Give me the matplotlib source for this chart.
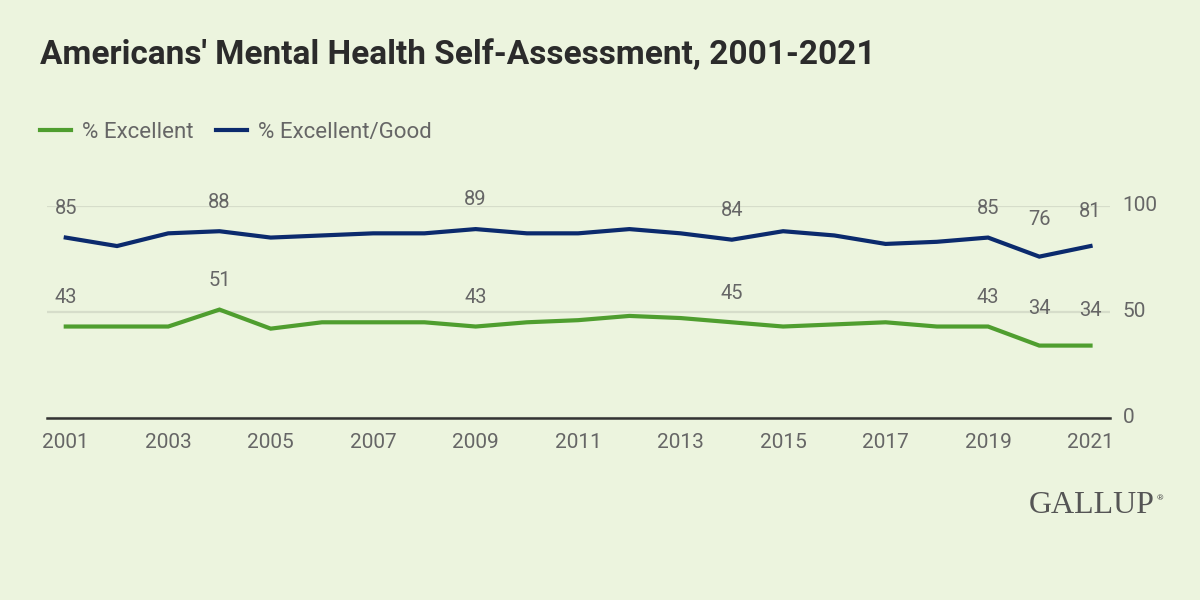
import matplotlib
matplotlib.use("Agg")
import matplotlib.pyplot as plt

years = list(range(2001, 2022))
excellent = [43, 43, 43, 51, 42, 45, 45, 45, 43, 45, 46, 48, 47, 45, 43, 44, 45, 43, 43, 34, 34]
excellent_good = [85, 81, 87, 88, 85, 86, 87, 87, 89, 87, 87, 89, 87, 84, 88, 86, 82, 83, 85, 76, 81]
labeled_years = [2001, 2004, 2009, 2014, 2019, 2020, 2021]
x_ticks = list(range(2001, 2022, 2))
y_ticks = [0, 50, 100]

bg = "#ecf4de"
green = "#4f9e2f"
navy = "#0b2a6d"
grey = "#666666"

plt.rcParams["font.family"] = ["Roboto", "DejaVu Sans"]

fig = plt.figure(figsize=(12, 6), dpi=100, facecolor=bg)
ax = fig.add_axes([0.039, 0.304, 0.886, 0.353])
ax.set_facecolor(bg)

ax.plot(years, excellent, color=green, linewidth=3, solid_joinstyle="miter", label="% Excellent")
ax.plot(years, excellent_good, color=navy, linewidth=3, solid_joinstyle="miter", label="% Excellent/Good")

for series in (excellent, excellent_good):
    for yr, v in zip(years, series):
        if yr in labeled_years:
            off = 21
            if yr == 2020:
                off = 27
            elif yr == 2021:
                off = 25
            ax.annotate(str(v), (yr, v), xytext=(0, off), textcoords="offset points",
                        ha="center", va="center", fontsize=14.5, color=grey)

ax.set_xlim(2000.63, 2021.38)
ax.set_ylim(0, 100)
ax.set_xticks(x_ticks)
ax.set_yticks(y_ticks)
ax.yaxis.tick_right()
ax.tick_params(axis="both", length=0, labelsize=15, labelcolor=grey)
ax.tick_params(axis="x", pad=11)
ax.tick_params(axis="y", pad=9)
for lbl in ax.get_yticklabels():
    lbl.set_va("center")

for s in ["top", "left", "right"]:
    ax.spines[s].set_visible(False)
ax.spines["bottom"].set_color("#333333")
ax.spines["bottom"].set_linewidth(1.8)
ax.yaxis.grid(True, color="#d6ddca", linewidth=1.6)
ax.set_axisbelow(True)

fig.text(0.033, 0.908, "Americans' Mental Health Self-Assessment, 2001-2021",
         fontsize=24, fontweight="bold", color="#2b2b2b", va="center", ha="left")

ax.legend(loc="upper left", bbox_to_anchor=(0.033, 0.797), bbox_transform=fig.transFigure,
          ncol=2, frameon=False, fontsize=16, labelcolor=grey, handlelength=1.4,
          handletextpad=0.5, columnspacing=1.0, borderaxespad=0, borderpad=0)

fig.text(0.962, 0.158, "GALLUP", family=["Liberation Serif", "DejaVu Serif"], fontsize=23,
         color="#555555", ha="right", va="center")
fig.text(0.964, 0.17, "®", fontsize=6, color="#555555", ha="left", va="center")

fig.savefig("out.png", dpi=100, facecolor=bg)
